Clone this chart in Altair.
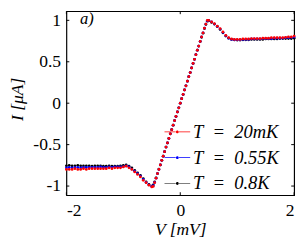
import altair as alt
import pandas as pd

# Bias voltage grid (mV)
V = [-2.00, -1.95, -1.90, -1.85, -1.80, -1.75, -1.70, -1.65, -1.60, -1.55,
     -1.50, -1.45, -1.40, -1.35, -1.30, -1.25, -1.20, -1.15, -1.10, -1.05,
     -1.00, -0.95, -0.90, -0.85, -0.80, -0.75, -0.70, -0.65, -0.60, -0.55,
     -0.500, -0.475, -0.450, -0.425, -0.400, -0.375, -0.350, -0.325, -0.300, -0.275,
     -0.250, -0.225, -0.200, -0.175, -0.150, -0.125, -0.100, -0.075, -0.050, -0.025,
     0.000, 0.025, 0.050, 0.075, 0.100, 0.125, 0.150, 0.175, 0.200, 0.225,
     0.250, 0.275, 0.300, 0.325, 0.350, 0.375, 0.400, 0.425, 0.450, 0.475, 0.500,
     0.55, 0.60, 0.65, 0.70, 0.75, 0.80, 0.85, 0.90, 0.95,
     1.00, 1.05, 1.10, 1.15, 1.20, 1.25, 1.30, 1.35, 1.40, 1.45,
     1.50, 1.55, 1.60, 1.65, 1.70, 1.75, 1.80, 1.85, 1.90, 1.95, 2.00]

I_20mK = [-0.80, -0.80, -0.80, -0.79, -0.80, -0.80, -0.79, -0.80, -0.79, -0.79,
          -0.79, -0.79, -0.79, -0.79, -0.79, -0.78, -0.79, -0.78, -0.78, -0.78,
          -0.77, -0.76, -0.78, -0.80, -0.83, -0.86, -0.89, -0.93, -0.96, -0.99,
          -1.01, -1.005, -0.96, -0.905, -0.85, -0.80, -0.745, -0.69, -0.64, -0.585,
          -0.53, -0.48, -0.425, -0.37, -0.32, -0.265, -0.21, -0.16, -0.105, -0.055,
          0.00, 0.055, 0.105, 0.16, 0.21, 0.265, 0.32, 0.37, 0.425, 0.48,
          0.53, 0.585, 0.64, 0.69, 0.745, 0.80, 0.85, 0.905, 0.955, 1.00, 1.00,
          0.98, 0.96, 0.93, 0.90, 0.86, 0.82, 0.79, 0.775, 0.77,
          0.77, 0.77, 0.775, 0.775, 0.775, 0.78, 0.78, 0.78, 0.78, 0.785,
          0.785, 0.785, 0.79, 0.79, 0.79, 0.79, 0.79, 0.795, 0.80, 0.80, 0.81]

I_055K = [-0.78, -0.775, -0.78, -0.775, -0.775, -0.78, -0.775, -0.775, -0.775, -0.775,
          -0.775, -0.775, -0.77, -0.775, -0.775, -0.77, -0.775, -0.77, -0.77, -0.77,
          -0.765, -0.755, -0.77, -0.795, -0.82, -0.85, -0.88, -0.92, -0.955, -0.985,
          -1.005, -0.995, -0.955, -0.905, -0.85, -0.80, -0.745, -0.69, -0.64, -0.585,
          -0.53, -0.48, -0.425, -0.37, -0.32, -0.265, -0.21, -0.16, -0.105, -0.055,
          0.00, 0.055, 0.105, 0.16, 0.21, 0.265, 0.32, 0.37, 0.425, 0.48,
          0.53, 0.585, 0.64, 0.69, 0.745, 0.80, 0.85, 0.905, 0.955, 0.995, 1.00,
          0.98, 0.955, 0.925, 0.895, 0.855, 0.815, 0.785, 0.77, 0.765,
          0.765, 0.765, 0.77, 0.77, 0.77, 0.775, 0.775, 0.775, 0.775, 0.78,
          0.78, 0.78, 0.78, 0.785, 0.785, 0.785, 0.785, 0.79, 0.79, 0.795, 0.80]

I_08K = [-0.755, -0.75, -0.755, -0.755, -0.75, -0.755, -0.755, -0.755, -0.755, -0.76,
         -0.755, -0.755, -0.755, -0.76, -0.76, -0.755, -0.76, -0.76, -0.76, -0.755,
         -0.75, -0.745, -0.76, -0.78, -0.81, -0.84, -0.87, -0.91, -0.95, -0.98,
         -1.00, -0.985, -0.95, -0.90, -0.85, -0.795, -0.745, -0.69, -0.64, -0.585,
         -0.53, -0.48, -0.425, -0.37, -0.32, -0.265, -0.21, -0.16, -0.105, -0.055,
         0.00, 0.055, 0.105, 0.16, 0.21, 0.265, 0.32, 0.37, 0.425, 0.48,
         0.53, 0.585, 0.64, 0.69, 0.745, 0.795, 0.845, 0.90, 0.95, 0.99, 0.995,
         0.975, 0.955, 0.925, 0.89, 0.85, 0.81, 0.785, 0.77, 0.765,
         0.762, 0.762, 0.765, 0.765, 0.765, 0.77, 0.77, 0.77, 0.77, 0.77,
         0.775, 0.775, 0.775, 0.775, 0.775, 0.78, 0.78, 0.78, 0.78, 0.78, 0.785]

NB = "\u00a0"
series_names = [f"T{NB}{NB}={NB}{NB}20mK", f"T{NB}{NB}={NB}{NB}0.55K", f"T{NB}{NB}={NB}{NB}0.8K"]
series_colors = ["#ff0000", "#0000ff", "#000000"]
y_ticks = [-1, -0.5, 0, 0.5, 1]
x_ticks = [-2, 0, 2]

rows = []
for name, vals in [(series_names[2], I_08K), (series_names[1], I_055K), (series_names[0], I_20mK)]:
    for v, i in zip(V, vals):
        rows.append({"V": v, "I": i, "T": name})
df = pd.DataFrame(rows)

FONT = "'Liberation Serif', 'Times New Roman', 'DejaVu Serif', serif"
W, H = 234, 189

xs = alt.Scale(domain=[-2, 2], nice=False, zero=False)
ys = alt.Scale(domain=[-1.11, 1.11], nice=False, zero=False)
cs = alt.Scale(domain=series_names, range=series_colors)

xaxis = alt.Axis(values=x_ticks, title="V [mV]", labelExpr="'' + datum.value",
                 titleX=W / 2, titleY=35, titleBaseline="middle", titleAlign="center",
                 labelPadding=7, ticks=False, domain=False, grid=False)
yaxis = alt.Axis(values=y_ticks, title="I [μA]", labelExpr="'' + datum.value",
                 titleX=-59, titleY=90, titleBaseline="top", titleAlign="center",
                 titleAngle=270, labelPadding=6, ticks=False, domain=False, grid=False)

X = lambda: alt.X("V:Q", scale=xs, axis=xaxis)
Y = lambda: alt.Y("I:Q", scale=ys, axis=yaxis)

dots = alt.Chart(df).mark_circle(size=8, opacity=1).encode(
    x=X(), y=Y(),
    color=alt.Color("T:N", scale=cs, legend=alt.Legend(
        title=None, orient="none", legendX=102, legendY=112,
        symbolType="M-1.1,-0.03H-0.14V0.03H-1.1Z M0.14,-0.03H1.1V0.03H0.14Z "
                   "M-0.12,0A0.12,0.12 0 1,0 0.12,0A0.12,0.12 0 1,0 -0.12,0Z",
        symbolSize=576, symbolStrokeWidth=0, symbolOpacity=1,
        labelFont=FONT, labelFontSize=19, labelFontStyle="italic",
        labelColor="black", labelOffset=4, rowPadding=4.5, padding=0)),
)

ydf = pd.DataFrame({"I": y_ticks})
xdf = pd.DataFrame({"V": x_ticks})
tl = alt.Chart(ydf).mark_rule(color="black", strokeWidth=1).encode(
    y=Y(), x=alt.value(0), x2=alt.value(3))
tr = alt.Chart(ydf).mark_rule(color="black", strokeWidth=1).encode(
    y=Y(), x=alt.value(W - 3), x2=alt.value(W))
tb = alt.Chart(xdf).mark_rule(color="black", strokeWidth=1).encode(
    x=X(), y=alt.value(H), y2=alt.value(H - 3))
tt = alt.Chart(xdf).mark_rule(color="black", strokeWidth=1).encode(
    x=X(), y=alt.value(0), y2=alt.value(3))

adf = pd.DataFrame({"V": [-1.76], "I": [1.02], "t": ["a)"]})
ann = alt.Chart(adf).mark_text(font=FONT, fontSize=17, fontStyle="italic",
                               align="left", baseline="middle", color="black").encode(
    x=X(), y=Y(), text="t:N")

chart = alt.layer(dots, tl, tr, tb, tt, ann).properties(
    width=W, height=H,
    autosize=alt.AutoSizeParams(type="none"),
    padding={"left": 60, "top": 0, "right": 5, "bottom": 52},
).configure_view(stroke="black", strokeWidth=1.2).configure_axis(
    labelFont=FONT, labelFontSize=18, labelColor="black",
    titleFont=FONT, titleFontSize=18, titleFontStyle="italic",
    titleFontWeight="normal", titleColor="black",
)

chart.save("out.html", embed_options={"renderer": "svg", "actions": False})
